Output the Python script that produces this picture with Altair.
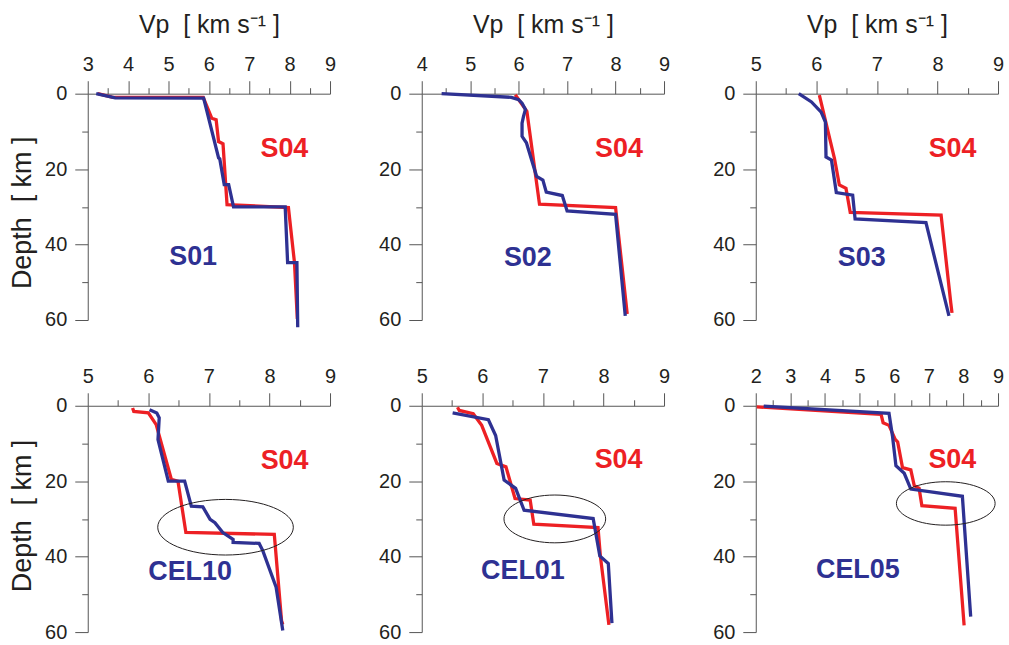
import altair as alt
import pandas as pd

RED = "#ED2024"
BLUE = "#2E3192"
INK = "#231F20"
AXIS_GREY = "#555555"
FONT = "Liberation Sans"
NBSP = "\u00a0"

# Vp (km/s) against depth (km): reference model S04 and the station profile, per panel
s04_a_vp = [3.25, 3.6, 5.86, 6.07, 6.18, 6.24, 6.35, 6.45, 7.97, 8.12, 8.19]
s04_a_z = [0.0, 0.9, 1.0, 6.5, 6.9, 12.7, 13.3, 29.4, 30.2, 44.8, 59.7]
s01_vp = [3.21, 3.68, 5.87, 6.24, 6.27, 6.38, 6.49, 6.61, 7.89, 7.95, 8.18, 8.2]
s01_z = [0.0, 1.1, 1.2, 17.0, 17.3, 24.1, 24.1, 30.0, 30.0, 44.8, 44.8, 61.9]

s04_b_vp = [5.93, 6.17, 6.43, 8.0, 8.24]
s04_b_z = [0.3, 4.7, 29.3, 30.2, 58.4]
s02_vp = [4.41, 5.85, 6.0, 6.07, 6.14, 6.1, 6.07, 6.07, 6.16, 6.37, 6.5, 6.57, 6.9, 7.0, 8.0, 8.2]
s02_z = [0.0, 0.97, 1.6, 2.5, 4.2, 6.0, 7.8, 11.3, 13.0, 21.9, 22.9, 26.1, 27.0, 31.1, 32.0, 58.9]

s04_c_vp = [6.05, 6.3, 6.38, 6.49, 6.56, 8.06, 8.22, 8.24]
s04_c_z = [0.4, 17.2, 24.2, 25.1, 31.5, 32.2, 55.5, 58.1]
s03_vp = [5.71, 5.92, 6.08, 6.15, 6.16, 6.25, 6.33, 6.6, 6.64, 7.81, 8.19]
s03_z = [0.0, 2.2, 4.9, 7.5, 16.8, 17.6, 26.2, 26.9, 33.2, 34.2, 58.9]

s04_d_vp = [5.74, 5.76, 6.0, 6.13, 6.38, 6.49, 6.62, 8.08, 8.2, 8.22]
s04_d_z = [0.6, 1.5, 1.9, 5.0, 19.5, 20.0, 33.6, 34.1, 57.0, 58.0]
cel10_vp = [6.02, 6.14, 6.18, 6.16, 6.33, 6.6, 6.71, 6.9, 7.02, 7.1, 7.23, 7.4, 7.4, 7.83, 7.89, 8.11, 8.22]
cel10_z = [1.05, 1.9, 3.2, 9.0, 20.0, 20.0, 26.6, 26.8, 30.1, 31.0, 33.6, 35.4, 36.2, 36.5, 38.4, 48.1, 59.6]

s04_e_vp = [5.59, 5.62, 5.85, 5.99, 6.24, 6.39, 6.54, 6.79, 6.85, 7.91, 7.95, 8.09]
s04_e_z = [0.4, 1.25, 2.1, 5.2, 15.3, 16.2, 24.6, 25.0, 31.4, 32.3, 40.0, 58.1]
cel01_vp = [5.51, 6.1, 6.22, 6.36, 6.55, 6.69, 7.83, 7.94, 8.08, 8.14]
cel01_z = [1.9, 3.7, 7.9, 19.7, 21.9, 27.7, 29.9, 39.8, 41.8, 57.6]

s04_f_vp = [2.03, 5.62, 5.68, 5.85, 6.03, 6.1, 6.24, 6.48, 6.58, 6.72, 6.8, 7.76, 8.02]
s04_f_z = [0.3, 2.3, 4.5, 5.2, 8.9, 9.6, 16.4, 17.0, 21.2, 21.9, 26.5, 27.2, 58.2]
cel05_vp = [2.23, 5.85, 5.95, 6.05, 6.29, 6.48, 7.97, 8.21]
cel05_z = [0.1, 2.0, 8.0, 15.9, 17.9, 22.1, 24.0, 55.9]

station_names = ["S01", "S02", "S03", "CEL10", "CEL01", "CEL05"]
reference_name = "S04"
vp_ranges = [(3, 9), (4, 9), (5, 9), (5, 9), (5, 9), (2, 9)]

# label anchors in data units (Vp, depth)
ref_label_vp = [7.87, 8.07, 8.25, 8.25, 8.25, 7.68]
ref_label_z = [14.6, 14.6, 14.8, 14.6, 14.4, 14.4]
station_label_vp = [5.61, 6.19, 6.75, 6.69, 6.67, 4.95]
station_label_z = [43.4, 43.5, 43.6, 44.0, 43.9, 43.6]

# highlighted Moho transitions (bottom row): centre in data units, outline width in px
ring_vp = [7.275, 7.197, 7.49]
ring_z = [32.2, 30.0, 25.9]
ring_width_px = [136, 102, 99]
ring_aspect = [0.41, 0.47, 0.44]

profiles = [
    ((s04_a_vp, s04_a_z), (s01_vp, s01_z)),
    ((s04_b_vp, s04_b_z), (s02_vp, s02_z)),
    ((s04_c_vp, s04_c_z), (s03_vp, s03_z)),
    ((s04_d_vp, s04_d_z), (cel10_vp, cel10_z)),
    ((s04_e_vp, s04_e_z), (cel01_vp, cel01_z)),
    ((s04_f_vp, s04_f_z), (cel05_vp, cel05_z)),
]

PANEL_W = 243
PANEL_H = 227


def ellipse_path(aspect):
    k = 0.5523
    a = aspect
    return (
        f"M -1 0 C -1 {-k*a:.4f} {-k} {-a} 0 {-a} "
        f"C {k} {-a} 1 {-k*a:.4f} 1 0 "
        f"C 1 {k*a:.4f} {k} {a} 0 {a} "
        f"C {-k} {a} -1 {k*a:.4f} -1 0 Z"
    )


def profile_frame(vp, z):
    return pd.DataFrame({"vp": vp, "depth": z, "idx": list(range(len(vp)))})


def panel(i):
    lo, hi = vp_ranges[i]
    top_row = i < 3
    left_col = i % 3 == 0
    xticks = [lo + 0.5 * k for k in range(int(round((hi - lo) * 2)) + 1)]

    x = alt.X(
        "vp:Q",
        scale=alt.Scale(domain=[lo, hi], nice=False, zero=False),
        axis=alt.Axis(
            orient="top",
            values=xticks,
            labelExpr="datum.value % 1 === 0 ? format(datum.value, 'd') : ''",
            tickSize={"condition": {"test": "datum.value % 1 !== 0", "value": 6}, "value": 13},
            tickColor=AXIS_GREY,
            tickWidth=1,
            domainColor=AXIS_GREY,
            domainWidth=1,
            grid=False,
            labelFont=FONT,
            labelFontSize=20,
            labelColor=INK,
            labelPadding=10,
            labelBaseline="alphabetic",
            labelFlush=False,
            labelOverlap=False,
            title=f"Vp{NBSP}{NBSP}[ km s\u207b\u00b9 ]" if top_row else "",
            titleFont=FONT,
            titleFontSize=25,
            titleFontWeight="normal",
            titleColor=INK,
            titleX=PANEL_W / 2,
            titleY=-61,
            titleAlign="center",
            titleBaseline="alphabetic",
        ),
    )
    y = alt.Y(
        "depth:Q",
        scale=alt.Scale(domain=[0, 60], reverse=True, nice=False, zero=False),
        axis=alt.Axis(
            values=list(range(0, 61, 10)),
            labelExpr="datum.value % 20 === 0 ? format(datum.value, 'd') : ''",
            tickSize={"condition": {"test": "datum.value % 20 !== 0", "value": 6}, "value": 13},
            tickColor=AXIS_GREY,
            tickWidth=1,
            domainColor=AXIS_GREY,
            domainWidth=1,
            grid=False,
            labelFont=FONT,
            labelFontSize=20,
            labelColor=INK,
            labelPadding=8,
            labelFlush=False,
            labelOverlap=False,
            title=f"Depth{NBSP}{NBSP}[ km ]" if left_col else "",
            titleFont=FONT,
            titleFontSize=27,
            titleFontWeight="normal",
            titleColor=INK,
            titleAngle=270,
            titleX=-57,
            titleY=119 if top_row else 110,
            titleAlign="center",
            titleBaseline="alphabetic",
        ),
    )

    (ref_vp, ref_z), (st_vp, st_z) = profiles[i]
    ref_line = alt.Chart(profile_frame(ref_vp, ref_z)).mark_line(
        color=RED, strokeWidth=3.3
    ).encode(order="idx:Q")
    st_line = alt.Chart(profile_frame(st_vp, st_z)).mark_line(
        color=BLUE, strokeWidth=3.3
    ).encode(order="idx:Q")

    ref_text = alt.Chart(
        pd.DataFrame({"vp": [ref_label_vp[i]], "depth": [ref_label_z[i]], "name": [reference_name]})
    ).mark_text(font=FONT, fontSize=27, fontWeight="bold", color=RED,
                align="center", baseline="middle").encode(text="name:N")
    st_text = alt.Chart(
        pd.DataFrame({"vp": [station_label_vp[i]], "depth": [station_label_z[i]], "name": [station_names[i]]})
    ).mark_text(font=FONT, fontSize=27, fontWeight="bold", color=BLUE,
                align="center", baseline="middle").encode(text="name:N")

    layers = [ref_line, st_line, ref_text, st_text]
    if not top_row:
        j = i - 3
        ring = alt.Chart(
            pd.DataFrame({"vp": [ring_vp[j]], "depth": [ring_z[j]]})
        ).mark_point(
            shape=ellipse_path(ring_aspect[j]),
            size=ring_width_px[j] ** 2,
            filled=False,
            stroke=INK,
            strokeWidth=1,
            opacity=1,
        )
        layers.append(ring)

    return alt.layer(*layers).encode(x=x, y=y).properties(width=PANEL_W, height=PANEL_H)


chart = alt.concat(
    *[panel(i) for i in range(6)],
    columns=3,
    spacing={"row": 86, "column": 92},
    bounds="flush",
).properties(
    padding={"left": 9, "top": 12, "right": 5, "bottom": 5},
    background="white",
).configure_view(stroke=None)

chart.save("out.html", embed_options={"renderer": "svg", "actions": False})
